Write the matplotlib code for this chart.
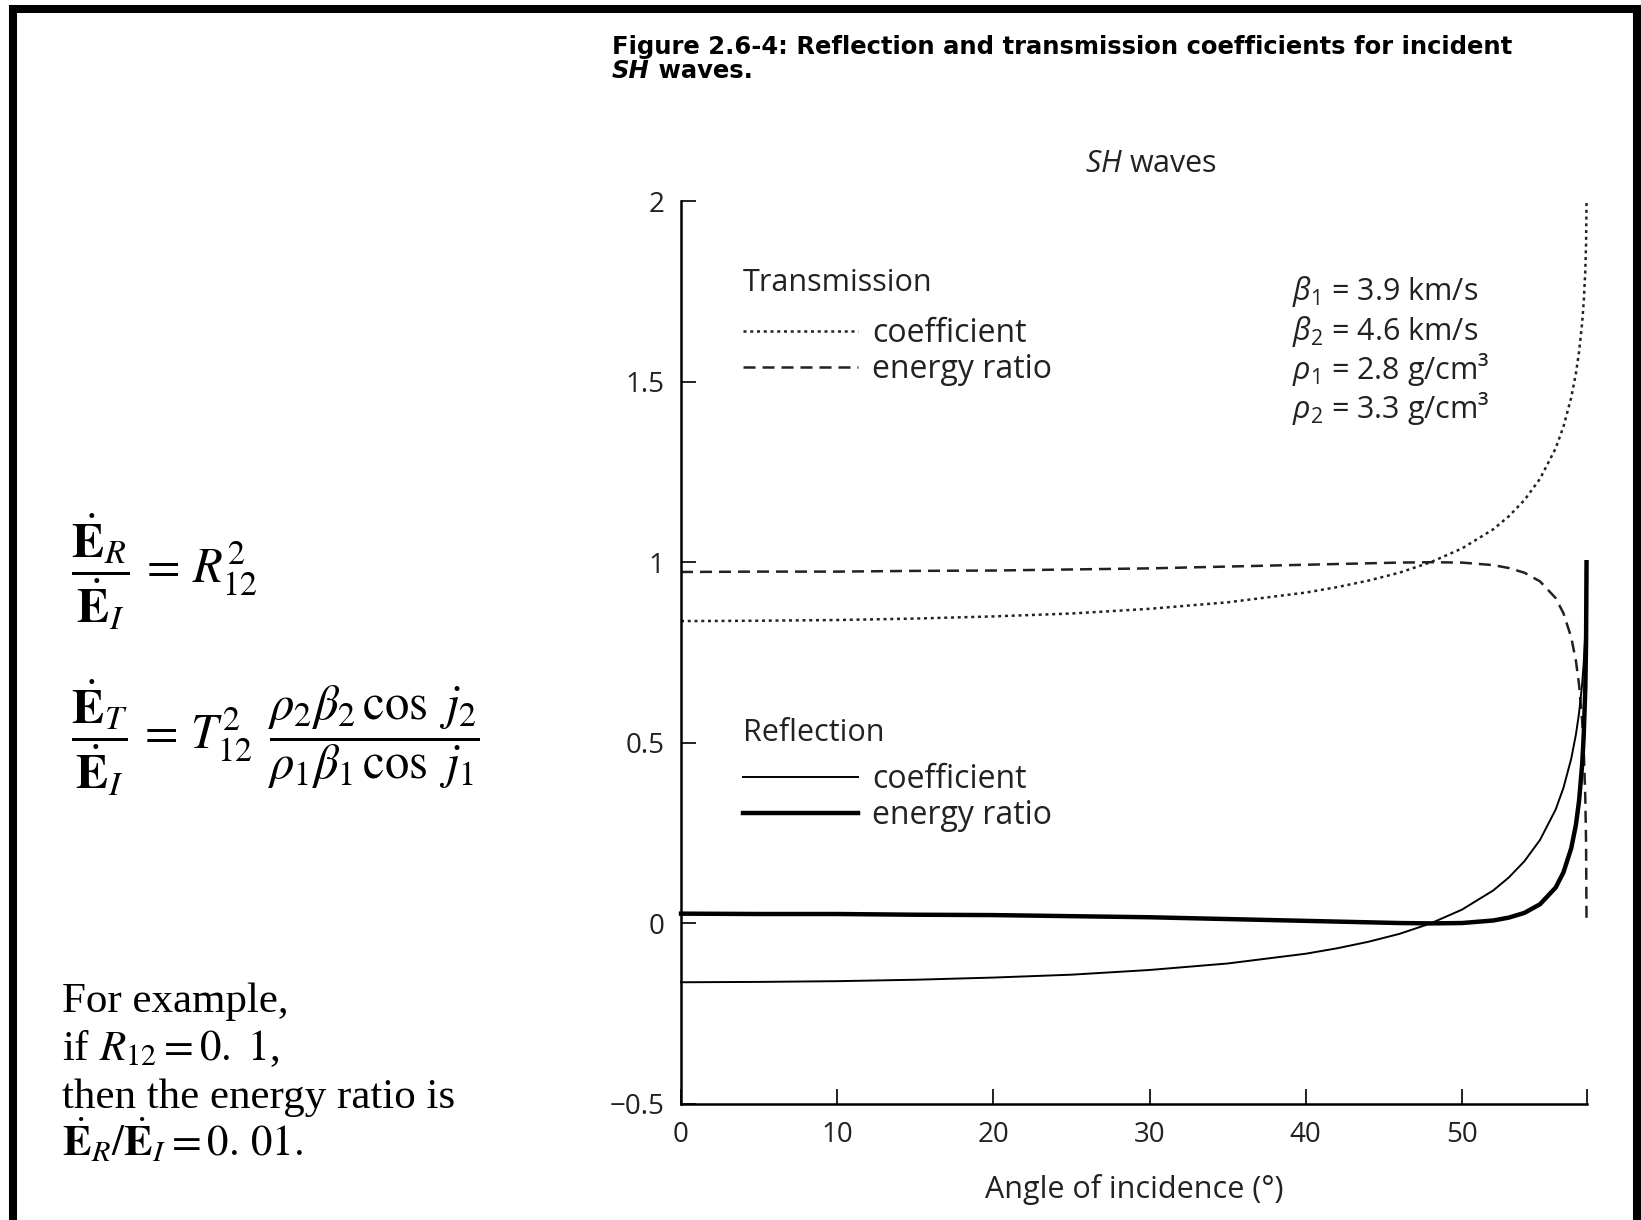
import matplotlib
matplotlib.use('Agg')
import matplotlib.pyplot as plt
from matplotlib.patches import Rectangle

# values (angle of incidence in degrees)
angle = [0, 5, 10, 15, 20, 25, 30, 35, 40, 42, 44, 46, 48, 50, 52, 53, 54, 55,
         56, 56.5, 57, 57.3, 57.5, 57.7, 57.8, 57.9, 57.95, 57.98]
refl_coef = [-0.163, -0.162, -0.160, -0.156, -0.150, -0.142, -0.129, -0.111, -0.084,
             -0.069, -0.051, -0.029, 0.0, 0.038, 0.091, 0.127, 0.172, 0.231,
             0.315, 0.375, 0.456, 0.523, 0.582, 0.663, 0.721, 0.806, 0.881, 1.0]
refl_energy = [0.027, 0.026, 0.026, 0.024, 0.023, 0.020, 0.017, 0.012, 0.007,
               0.005, 0.003, 0.001, 0.0, 0.001, 0.008, 0.016, 0.029, 0.053,
               0.099, 0.141, 0.208, 0.273, 0.339, 0.440, 0.520, 0.650, 0.777, 1.0]
trans_coef = [0.837, 0.838, 0.840, 0.844, 0.850, 0.858, 0.871, 0.889, 0.916,
              0.931, 0.949, 0.971, 1.0, 1.038, 1.091, 1.127, 1.172, 1.231,
              1.315, 1.375, 1.456, 1.523, 1.582, 1.663, 1.721, 1.806, 1.881, 2.0]
trans_energy = [0.973, 0.974, 0.974, 0.976, 0.977, 0.980, 0.983, 0.988, 0.993,
                0.995, 0.997, 0.999, 1.0, 0.999, 0.992, 0.984, 0.971, 0.947,
                0.901, 0.859, 0.792, 0.727, 0.661, 0.560, 0.480, 0.350, 0.223, 0.0]

xticks = [0, 10, 20, 30, 40, 50, 58]
xtick_labels = ['0', '10', '20', '30', '40', '50', '']
yticks = [-0.5, 0, 0.5, 1, 1.5, 2]
ytick_labels = ['\u22120.5', '0', '0.5', '1', '1.5', '2']

params = [r'$\beta_1$ = 3.9 km/s', r'$\beta_2$ = 4.6 km/s',
          r'$\rho_1$ = 2.8 g/cm³', r'$\rho_2$ = 3.3 g/cm³']

notes = ['For example,', r'if $R_{12} = 0.\ 1$,', 'then the energy ratio is',
         r'$\dot{\mathbf{E}}_R/\dot{\mathbf{E}}_I = 0.\,01.$']

plt.rcParams['font.family'] = ['Open Sans', 'DejaVu Sans']
plt.rcParams['mathtext.fontset'] = 'custom'
plt.rcParams['mathtext.rm'] = 'Open Sans'
plt.rcParams['mathtext.it'] = 'Open Sans:italic'
plt.rcParams['mathtext.bf'] = 'Open Sans:bold'

ink = '#222222'
fs = 22

fig = plt.figure(figsize=(16.41, 12.20), dpi=100)
ax = fig.add_axes([0.415, 0.0951, 0.552, 0.7401])

ax.plot(angle, trans_coef, color=ink, lw=1.8, ls=(0, (1.2, 1.5)), clip_on=False)
ax.plot(angle, trans_energy, color=ink, lw=1.8, ls=(0, (4.8, 2.8)), clip_on=False)
ax.plot(angle, refl_coef, color='black', lw=1.4, clip_on=False)
ax.plot(angle, refl_energy, color='black', lw=3.2, clip_on=False)

ax.set_xlim(0, 58)
ax.set_ylim(-0.5, 2)
ax.set_xticks(xticks)
ax.set_xticklabels(xtick_labels)
ax.set_yticks(yticks)
ax.set_yticklabels(ytick_labels)
ax.tick_params(direction='in', length=11, width=1.4, labelsize=20, colors=ink)
ax.tick_params(axis='x', pad=12)
ax.tick_params(axis='y', pad=12)
for s in ['top', 'right']:
    ax.spines[s].set_visible(False)
for s in ['left', 'bottom']:
    ax.spines[s].set_linewidth(1.8)
ax.set_xlabel('Angle of incidence (°)', fontsize=fs, color=ink, labelpad=18)

lines = ax.get_lines()
leg_kw = dict(loc='center left', frameon=False, fontsize=23, handlelength=3.6,
              handletextpad=0.45, labelspacing=0.1, borderpad=0,
              borderaxespad=0, labelcolor=ink)
ax.text(0.068, 0.909, 'Transmission', transform=ax.transAxes, fontsize=fs,
        color=ink, va='center')
leg1 = ax.legend(lines[:2], ['coefficient', 'energy ratio'],
                 bbox_to_anchor=(0.068, 0.833), **leg_kw)
ax.add_artist(leg1)
ax.text(0.068, 0.411, 'Reflection', transform=ax.transAxes, fontsize=fs,
        color=ink, va='center')
ax.legend(lines[2:], ['coefficient', 'energy ratio'],
          bbox_to_anchor=(0.068, 0.339), **leg_kw)

for i, p in enumerate(params):
    ax.text(0.675, 0.890 - i * 0.0435, p, transform=ax.transAxes, fontsize=fs,
            color=ink, va='baseline')

fig.text(0.7014, 0.859, r'$\mathit{SH}$ waves', fontsize=fs, color=ink,
         ha='center', va='baseline')

# caption at top
cap = dict(family='DejaVu Sans', weight='bold', fontsize=17.5, color='black')
fig.text(0.373, 0.9557,
         'Figure 2.6-4: Reflection and transmission coefficients for incident',
         va='baseline', **cap)
sh = fig.text(0.373, 0.936, 'SH', style='italic', va='baseline', **cap)
plt.annotate(' waves.', xy=(1, 0), xycoords=sh, va='bottom', ha='left', **cap)

# left-hand text in serif
serif = dict(family=['Liberation Serif', 'DejaVu Serif'], math_fontfamily='stix',
             color='black')
fig.text(0.043, 0.531,
         r'$\dfrac{\dot{\mathbf{E}}_R}{\dot{\mathbf{E}}_I} \,=\, R_{12}^2$',
         va='center', fontsize=35, **serif)
fig.text(0.043, 0.395,
         r'$\dfrac{\dot{\mathbf{E}}_T}{\dot{\mathbf{E}}_I} \,=\, T_{12}^2\;\, '
         r'\dfrac{\rho_2\beta_2\,\cos\ j_2}{\rho_1\beta_1\,\cos\ j_1}$',
         va='center', fontsize=35, **serif)
for i, line in enumerate(notes):
    fig.text(0.038, 0.1705 - i * 0.0395, line, va='baseline', fontsize=31, **serif)

# slide frame
fig.patches.append(Rectangle((0.0079, -0.05), 0.9897, 1.0426, transform=fig.transFigure,
                             fill=False, lw=5.8, ec='black'))

fig.savefig('out.png', dpi=100)
